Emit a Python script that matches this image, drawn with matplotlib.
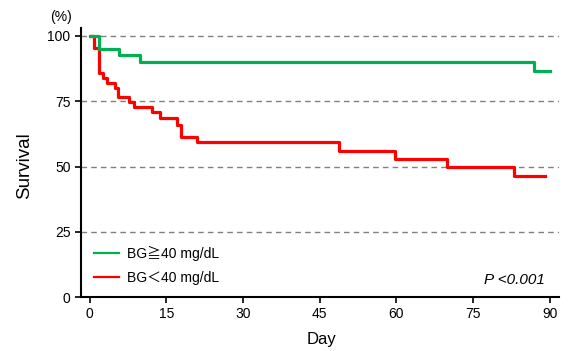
import matplotlib
matplotlib.use("Agg")
import matplotlib.pyplot as plt
from matplotlib.lines import Line2D

plt.rcParams['font.family'] = ['Liberation Sans', 'Noto Sans CJK JP', 'DejaVu Sans']

# Kaplan-Meier style step data
green_days = [0.0, 1.8, 5.7, 9.8, 87.0, 90.0]
green_surv = [100, 95.0, 92.7, 90.0, 86.7, 86.7]

red_days = [0.2, 0.8, 1.8, 2.6, 3.4, 4.9, 5.5, 7.7, 8.7, 12.1, 13.7, 17.0, 17.9,
            20.9, 48.8, 59.8, 69.8, 83.0, 89.0]
red_surv = [100, 95.2, 85.7, 83.8, 81.9, 80.2, 76.8, 74.8, 72.9, 71.0, 68.5, 65.9,
            61.4, 59.5, 56.1, 53.0, 50.0, 46.5, 46.5]

x_ticks = [0, 15, 30, 45, 60, 75, 90]
y_ticks = [0, 25, 50, 75, 100]

green = '#00B050'
red = '#FF0000'

fig = plt.figure(figsize=(5.68, 3.51), dpi=100)
ax = fig.add_axes([0.142, 0.153, 0.842, 0.767])

for y in y_ticks[1:]:
    ax.axhline(y, color='#808080', lw=1.0, ls=(0, (4, 3)), zorder=1)

ax.step(red_days, red_surv, where='post', color=red, lw=2.3, zorder=3)
ax.step(green_days, green_surv, where='post', color=green, lw=2.3, zorder=4)

ax.set_xlim(-1.8, 91.8)
ax.set_ylim(0, 103)
ax.set_xticks(x_ticks)
ax.set_yticks(y_ticks)
ax.tick_params(labelsize=10, width=1.2, length=4.3, pad=3, colors='black')

for s in ['top', 'right']:
    ax.spines[s].set_visible(False)
for s in ['left', 'bottom']:
    ax.spines[s].set_linewidth(1.5)

ax.set_xlabel('Day', fontsize=12)
ax.xaxis.set_label_coords(0.5045, -0.128)
ax.set_ylabel('Survival', fontsize=13.5)
ax.yaxis.set_label_coords(-0.10, 0.49)
fig.text(0.107, 0.952, '(%)', fontsize=10, ha='center', va='center')

handles = [Line2D([], [], color=green, lw=1.6), Line2D([], [], color=red, lw=1.6)]
labels = ['BG\u226740 mg/dL', 'BG\uff1c40 mg/dL']
ax.legend(handles, labels, loc='lower left', frameon=False,
          fontsize=10, handlelength=1.8, handletextpad=0.55, borderaxespad=0,
          bbox_to_anchor=(0.016, 0.025), labelspacing=0.72)

ax.text(0.971, 0.064, 'P <0.001', transform=ax.transAxes, fontsize=11,
        style='italic', ha='right', va='center')

fig.savefig('out.png', dpi=100)
